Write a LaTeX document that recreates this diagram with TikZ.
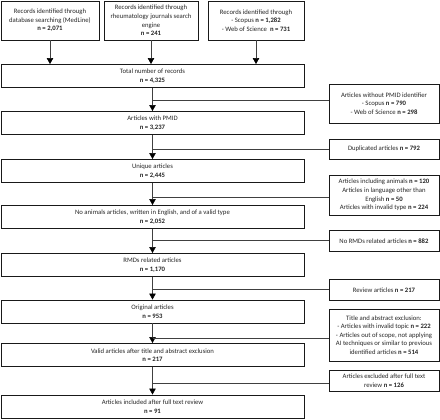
\documentclass[tikz,border=0pt]{standalone}
\usepackage{fontspec}
\setmainfont{Carlito}
\usetikzlibrary{arrows.meta}

\tikzset{
    box/.style={draw=black!90, line width=0.9pt, align=center, inner sep=1pt,
        font=\fontsize{6.7}{8.6}\selectfont, text=black!85},
    mainbox/.style={box, minimum width=303pt, minimum height=23pt},
    sidebox/.style={box, minimum width=110pt},
    link/.style={draw=black!75, line width=0.55pt},
    flow/.style={link, -{Triangle[width=6.5pt,length=6pt,color=black]}},
}

\begin{document}
\begin{tikzpicture}[x=1pt, y=-1pt]
    \useasboundingbox (0,0) rectangle (440,420);

    %sources
    \node[box, minimum width=98pt, minimum height=39pt] (medline) at (50,20.5)
        {Records identified through\\database searching (MedLine)\\\textbf{n = 2,071}};
    \node[box, minimum width=94pt, minimum height=39pt] (journals) at (151,20.5)
        {Records identified through\\rheumatology journals search\\engine\\\textbf{n = 241}};
    \node[box, minimum width=96pt, minimum height=39pt] (scopus) at (256,20.5)
        {Records identified through\\- Scopus \textbf{n = 1,282}\\- Web of Science \ \textbf{n = 731}};

    %main column
    \node[mainbox] (tot) at (152.5,76) {Total number of records\\\textbf{n = 4,325}};
    \node[mainbox] (pmid) at (152.5,123) {Articles with PMID\\\textbf{n = 3,237}};
    \node[mainbox] (uniq) at (152.5,171) {Unique articles\\\textbf{n = 2,445}};
    \node[mainbox] (noanim) at (152.5,217)
        {No animals articles, written in English, and of a valid type\\\textbf{n = 2,052}};
    \node[mainbox] (rmds) at (152.5,265) {RMDs related articles\\\textbf{n = 1,170}};
    \node[mainbox] (orig) at (152.5,311.5) {Original articles\\\textbf{n = 953}};
    \node[mainbox] (valid) at (152.5,355)
        {Valid articles after title and abstract exclusion\\\textbf{n = 217}};
    \node[mainbox] (final) at (152.5,406.5)
        {Articles included after full text review\\\textbf{n = 91}};

    %exclusions
    \node[sidebox, minimum height=39pt] (wopmid) at (384,103.5)
        {Articles without PMID identifier\\- Scopus \textbf{n = 790}\\- Web of Science \textbf{n = 298}};
    \node[sidebox, minimum height=20pt] (dup) at (384,149)
        {Duplicated articles \textbf{n = 792}};
    \node[sidebox, minimum height=40pt] (animals) at (384,195)
        {Articles including animals \textbf{n = 120}\\Articles in language other than\\English \textbf{n = 50}\\Articles with invalid type \textbf{n = 224}};
    \node[sidebox, minimum height=21pt] (normds) at (384,241)
        {No RMDs related articles \textbf{n = 882}};
    \node[sidebox, minimum height=21pt] (review) at (384,290)
        {Review articles \textbf{n = 217}};
    \node[sidebox, minimum height=52pt] (title) at (384,335)
        {Title and abstract exclusion:\\- Articles with invalid topic \textbf{n = 222}\\- Articles out of scope, not applying\\AI techniques or similar to previous\\identified articles \textbf{n = 514}};
    \node[sidebox, minimum height=21pt] (fulltext) at (384,380.5)
        {Articles excluded after full text\\review \textbf{n = 126}};

    %arrows
    \foreach \s in {medline,journals,scopus}
    {
        \draw[flow] (\s.south) -- (\s.south |- tot.north);
    }
    \foreach \a/\b in {tot/pmid,pmid/uniq,uniq/noanim,noanim/rmds,rmds/orig,orig/valid,valid/final}
    {
        \draw[flow] (\a.south) -- (\b.north);
    }
    \foreach \s/\y in {wopmid/100,dup/149,animals/197,normds/240,review/289,title/338,fulltext/383}
    {
        \coordinate (J\s) at (152.5,\y);
        \draw[link] (J\s) -- (J\s -| \s.west);
    }
\end{tikzpicture}
\end{document}
